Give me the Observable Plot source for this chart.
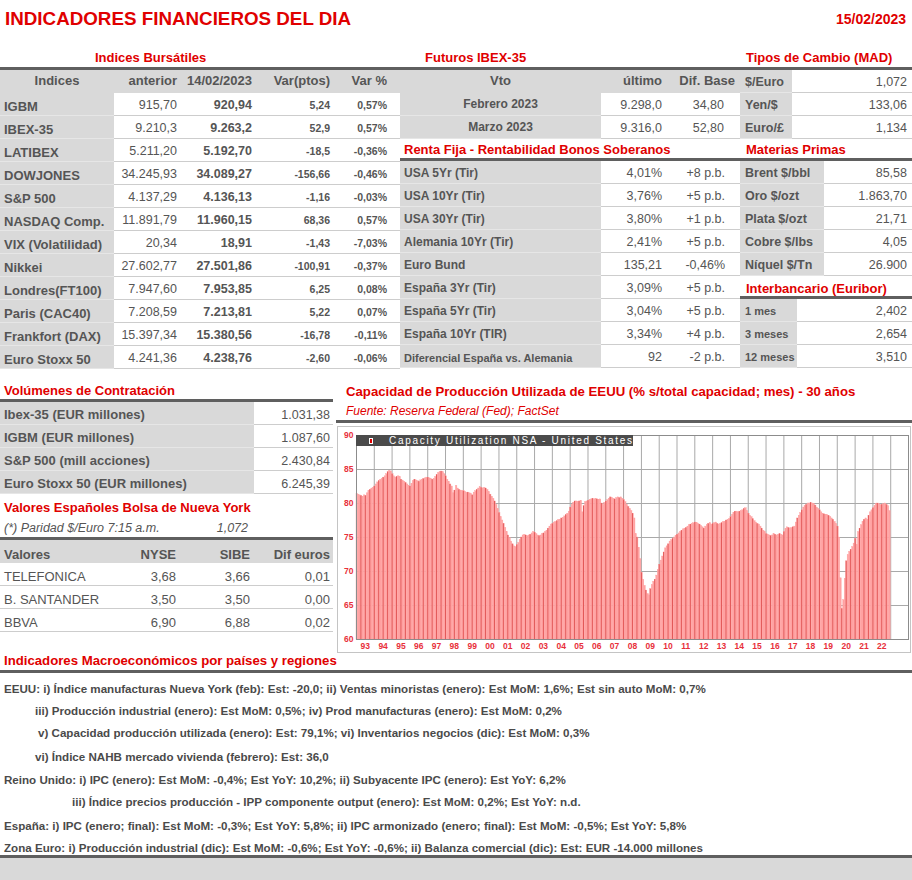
<!DOCTYPE html>
<html><head><meta charset="utf-8">
<script src="https://cdn.jsdelivr.net/npm/d3@7"></script>
<script src="https://cdn.jsdelivr.net/npm/@observablehq/plot@0.6"></script>
<style>
body{margin:0;background:#fff;font-family:Arial,"Liberation Sans",sans-serif;}
#page{position:relative;width:912px;height:880px;overflow:hidden;background:#fff;}
.t{position:absolute;white-space:nowrap;}
.cell{position:absolute;box-sizing:border-box;white-space:nowrap;overflow:visible;color:#555;}
</style></head>
<body><div id="page"></div>
<script>
// ---------- DATA ----------
const reportTitle = "INDICADORES FINANCIEROS DEL DIA";
const reportDate = "15/02/2023";
const indicesHeader = ["Indices","anterior","14/02/2023","Var(ptos)","Var %"];
const indicesNames = ["IGBM","IBEX-35","LATIBEX","DOWJONES","S&P 500","NASDAQ Comp.","VIX (Volatilidad)","Nikkei","Londres(FT100)","Paris (CAC40)","Frankfort (DAX)","Euro Stoxx 50"];
const indicesPrev = ["915,70","9.210,3","5.211,20","34.245,93","4.137,29","11.891,79","20,34","27.602,77","7.947,60","7.208,59","15.397,34","4.241,36"];
const indicesLast = ["920,94","9.263,2","5.192,70","34.089,27","4.136,13","11.960,15","18,91","27.501,86","7.953,85","7.213,81","15.380,56","4.238,76"];
const indicesVarPts = ["5,24","52,9","-18,5","-156,66","-1,16","68,36","-1,43","-100,91","6,25","5,22","-16,78","-2,60"];
const indicesVarPct = ["0,57%","0,57%","-0,36%","-0,46%","-0,03%","0,57%","-7,03%","-0,37%","0,08%","0,07%","-0,11%","-0,06%"];
const futHeader = ["Vto","último","Dif. Base"];
const futVto = ["Febrero 2023","Marzo 2023"];
const futLast = ["9.298,0","9.316,0"];
const futBase = ["34,80","52,80"];
const bondNames = ["USA 5Yr (Tir)","USA 10Yr (Tir)","USA 30Yr (Tir)","Alemania 10Yr (Tir)","Euro Bund","España 3Yr (Tir)","España 5Yr (Tir)","España 10Yr (TIR)","Diferencial España vs. Alemania"];
const bondValues = ["4,01%","3,76%","3,80%","2,41%","135,21","3,09%","3,04%","3,34%","92"];
const bondChanges = ["+8 p.b.","+5 p.b.","+1 p.b.","+5 p.b.","-0,46%","+5 p.b.","+5 p.b.","+4 p.b.","-2 p.b."];
const fxNames = ["$/Euro","Yen/$","Euro/£"];
const fxValues = ["1,072","133,06","1,134"];
const commNames = ["Brent $/bbl","Oro $/ozt","Plata $/ozt","Cobre $/lbs","Níquel $/Tn"];
const commValues = ["85,58","1.863,70","21,71","4,05","26.900"];
const euriborNames = ["1 mes","3 meses","12 meses"];
const euriborValues = ["2,402","2,654","3,510"];
const volNames = ["Ibex-35 (EUR millones)","IGBM (EUR millones)","S&P 500 (mill acciones)","Euro Stoxx 50 (EUR millones)"];
const volValues = ["1.031,38","1.087,60","2.430,84","6.245,39"];
const adrNote = ["(*) Paridad $/Euro 7:15 a.m.","1,072"];
const adrHeader = ["Valores","NYSE","SIBE","Dif euros"];
const adrNames = ["TELEFONICA","B. SANTANDER","BBVA"];
const adrNyse = ["3,68","3,50","6,90"];
const adrSibe = ["3,66","3,50","6,88"];
const adrDif = ["0,01","0,00","0,02"];
const sectionTitles = ["Indices Bursátiles","Futuros  IBEX-35","Tipos de Cambio (MAD)","Renta Fija - Rentabilidad Bonos Soberanos","Materias Primas","Interbancario (Euribor)","Volúmenes de Contratación","Valores Españoles Bolsa de Nueva York","Indicadores Macroeconómicos por países y regiones"];
const chartTitle = "Capacidad de Producción Utilizada de EEUU (% s/total capacidad; mes) - 30 años";
const chartSource = "Fuente: Reserva Federal (Fed); FactSet";
const chartLegend = "Capacity Utilization NSA - United States";
const macroLines = [
 "EEUU: i) Índice manufacturas Nueva York (feb): Est: -20,0; ii) Ventas minoristas (enero): Est MoM: 1,6%; Est sin auto MoM: 0,7%",
 "iii) Producción industrial (enero): Est MoM: 0,5%; iv) Prod manufacturas (enero): Est MoM: 0,2%",
 "v) Capacidad producción utilizada (enero): Est: 79,1%; vi) Inventarios negocios (dic): Est MoM: 0,3%",
 "vi) Índice NAHB mercado vivienda (febrero): Est: 36,0",
 "Reino Unido: i) IPC (enero): Est MoM: -0,4%; Est YoY: 10,2%; ii)  Subyacente IPC (enero): Est YoY: 6,2%",
 "iii) Índice precios producción - IPP componente output (enero): Est MoM: 0,2%; Est YoY: n.d.",
 "España: i) IPC (enero; final): Est MoM: -0,3%; Est YoY: 5,8%; ii) IPC armonizado (enero; final): Est MoM: -0,5%; Est YoY: 5,8%",
 "Zona Euro: i) Producción industrial (dic): Est MoM: -0,6%; Est YoY: -0,6%; ii) Balanza comercial (dic): Est: EUR -14.000 millones"
];
// chart data: monthly capacity utilization (%), Jan 1993 .. Dec 2022
const capStartYear = 1993;
const capUtil = [
 81.4,81.3,81.2,81.1,81.0,81.2,81.1,81.5,81.8,82.0,82.2,82.3, // 1993
 82.5,82.8,83.1,83.3,83.5,83.6,83.8,84.0,84.3,84.6,84.8,84.7, // 1994
 84.3,84.0,83.8,83.9,84.0,83.9,83.5,83.3,83.2,83.0,82.8,82.6, // 1995
 82.5,82.9,83.3,83.5,83.4,83.3,83.2,83.4,83.5,83.6,83.7,83.8, // 1996
 83.8,83.7,83.6,83.5,83.6,83.9,84.2,84.5,84.6,84.7,84.6,84.3, // 1997
 84.0,83.5,83.2,82.8,82.5,81.5,81.9,82.6,82.2,82.0,81.9,81.8, // 1998
 81.8,81.7,81.6,81.6,81.5,81.4,81.2,81.6,81.8,82.0,82.2,82.4, // 1999
 82.3,82.2,82.3,82.2,82.0,81.7,81.3,81.0,80.7,80.3,79.8,79.2, // 2000
 78.6,78.0,77.5,77.0,76.4,75.8,75.3,74.9,74.4,74.0,73.7,73.6, // 2001
 73.9,74.2,74.6,75.0,75.3,75.4,75.3,75.2,75.3,75.4,75.6,75.8, // 2002
 75.7,75.5,75.3,75.2,75.3,75.5,75.6,75.8,76.0,76.3,76.6,76.9, // 2003
 77.0,77.2,77.3,77.4,77.6,77.6,77.8,77.9,78.1,78.3,78.5,78.8, // 2004
 79.4,79.8,80.1,80.3,80.3,80.2,80.3,80.4,78.7,79.6,80.2,80.3, // 2005
 80.4,80.5,80.6,80.7,80.6,80.7,80.6,80.5,80.6,80.0,79.8,80.1, // 2006
 80.3,80.5,80.7,80.9,80.8,80.7,80.6,80.8,80.9,80.8,80.9,80.7, // 2007
 80.5,80.2,79.8,79.5,79.2,78.9,78.5,77.8,75.5,75.0,73.5,71.8, // 2008
 69.8,68.8,67.9,67.2,66.7,66.5,67.4,68.0,68.5,68.8,69.4,70.2, // 2009
 71.0,71.6,72.2,72.8,73.4,73.7,74.0,74.4,74.6,74.8,75.0,75.2, // 2010
 75.4,75.6,75.8,76.0,76.2,76.3,76.4,76.6,76.8,76.9,77.0,77.1, // 2011
 77.2,77.1,77.0,76.9,76.7,76.5,76.3,76.6,76.8,77.0,77.1,76.9, // 2012
 77.0,77.1,77.2,77.0,76.9,77.0,77.1,77.3,77.3,77.5,77.6,77.7, // 2013
 78.0,78.3,78.6,78.8,78.8,78.7,78.8,78.9,79.0,79.2,79.3,78.9, // 2014
 78.5,78.2,78.0,77.7,77.4,77.2,77.0,76.9,76.6,76.3,76.0,75.8, // 2015
 75.5,75.4,75.3,75.2,75.3,75.5,75.4,75.3,75.4,75.5,75.4,75.3, // 2016
 75.8,76.3,76.5,76.4,76.3,76.4,76.5,76.6,77.2,77.8,78.2,78.6, // 2017
 79.0,79.4,79.6,79.8,80.0,80.0,80.1,80.0,79.9,79.7,79.4,79.2, // 2018
 79.0,78.7,78.5,78.4,78.3,78.3,78.2,78.0,77.8,77.6,77.3,77.0, // 2019
 76.6,75.0,69.0,64.5,65.8,68.9,71.5,72.4,72.9,73.2,73.6,74.1, // 2020
 74.8,73.9,75.8,76.3,76.8,77.3,77.6,77.8,77.6,78.2,78.7,79.0, // 2021
 79.3,79.6,79.9,80.0,79.9,79.8,79.8,79.9,80.0,79.8,79.6,78.9  // 2022
];
const chartYears = [1993,1994,1995,1996,1997,1998,1999,2000,2001,2002,2003,2004,2005,2006,2007,2008,2009,2010,2011,2012,2013,2014,2015,2016,2017,2018,2019,2020,2021,2022];
const yTickValues = [60,65,70,75,80,85,90];

// ---------- LAYOUT HELPERS ----------
const page = document.getElementById("page");
const RED = "#e00000", GRAY = "#d9d9d9";
function text(str, x, y, css) {
  const d = document.createElement("div");
  d.className = "t"; d.textContent = str;
  d.style.left = x + "px"; d.style.top = y + "px";
  Object.assign(d.style, css || {});
  page.appendChild(d); return d;
}
function hdr(str, x, y) { return text(str, x, y, {fontWeight:"bold", fontSize:"13px", color:RED}); }
function line(x0, x1, y, h, color) {
  const d = document.createElement("div");
  d.style.position = "absolute"; d.style.left = x0 + "px"; d.style.top = y + "px";
  d.style.width = (x1 - x0) + "px"; d.style.height = (h || 3) + "px"; d.style.background = color || "#5f5f5f";
  page.appendChild(d); return d;
}
function cell(x0, x1, y, h, str, o) {
  o = o || {};
  const fs = o.fs || 12.5, bl = o.bl || 17;
  const d = document.createElement("div");
  d.className = "cell";
  d.style.left = x0 + "px"; d.style.top = y + "px";
  d.style.width = (x1 - x0) + "px"; d.style.height = h + "px";
  d.style.background = o.bg || "#fff";
  if (o.border !== false) d.style.borderBottom = "1px solid " + (o.borderColor || "#cdcdcd");
  d.style.fontSize = fs + "px";
  d.style.lineHeight = (2 * (bl - 0.905 * fs) + 1.117 * fs) + "px";
  d.style.fontWeight = o.bold ? "bold" : "normal";
  if (o.italic) d.style.fontStyle = "italic";
  const align = o.align || "right";
  d.style.textAlign = align;
  const pad = o.pad == null ? 3 : o.pad;
  if (align === "right") d.style.paddingRight = pad + "px";
  else if (align === "left") d.style.paddingLeft = pad + "px";
  d.style.color = o.color || "#555";
  d.textContent = str;
  page.appendChild(d); return d;
}

// ---------- TITLE ----------
text(reportTitle, 5, 8, {fontWeight:"bold", fontSize:"18.8px", color:RED});
text(reportDate, 836, 11, {fontWeight:"bold", fontSize:"14px", color:RED});

// ---------- INDICES BURSATILES ----------
hdr(sectionTitles[0], 95, 50);
hdr(sectionTitles[1], 425, 50);
hdr(sectionTitles[2], 746, 50);
line(0, 912, 67, 3);
const RH = 23;
cell(0,114,70,RH,indicesHeader[0],{bg:GRAY,bold:true,fs:13,align:"center",bl:16,border:false});
cell(114,178,70,RH,indicesHeader[1],{bg:GRAY,bold:true,fs:13,pad:1,bl:16,border:false});
cell(178,253,70,RH,indicesHeader[2],{bg:GRAY,bold:true,fs:13,pad:1,bl:16,border:false});
cell(253,331,70,RH,indicesHeader[3],{bg:GRAY,bold:true,fs:13,pad:1,bl:16,border:false});
cell(331,400,70,RH,indicesHeader[4],{bg:GRAY,bold:true,fs:13,pad:13,bl:16,border:false});
indicesNames.forEach((n, i) => {
  const y = 93 + i * RH;
  cell(0,114,y,RH,n,{bg:GRAY,bold:true,fs:13,align:"left",pad:4,bl:19,borderColor:"#e6e6e6"});
  cell(114,178,y,RH,indicesPrev[i],{pad:1,bl:17});
  cell(178,253,y,RH,indicesLast[i],{bold:true,pad:1,bl:17});
  cell(253,331,y,RH,indicesVarPts[i],{bold:true,fs:10.5,pad:1,bl:16});
  cell(331,400,y,RH,indicesVarPct[i],{bold:true,fs:10.5,pad:13,bl:16});
});

// ---------- FUTUROS / RENTA FIJA ----------
cell(400,601,70,RH,futHeader[0],{bg:GRAY,bold:true,fs:13,align:"center",bl:16,border:false});
cell(601,665,70,RH,futHeader[1],{bg:GRAY,bold:true,fs:13,pad:3,bl:16,border:false});
cell(665,740,70,RH,futHeader[2],{bg:GRAY,bold:true,fs:13,pad:5,bl:16,border:false});
futVto.forEach((n, i) => {
  const y = 93 + i * RH;
  cell(400,601,y,RH,n,{bg:GRAY,bold:true,fs:12,align:"center",bl:16,borderColor:"#e6e6e6"});
  cell(601,665,y,RH,futLast[i],{pad:3,bl:17});
  cell(665,740,y,RH,futBase[i],{pad:16,bl:17});
});
hdr(sectionTitles[3], 404, 142);
line(400, 740, 158, 3);
bondNames.forEach((n, i) => {
  const y = 161 + i * RH;
  const small = i === bondNames.length - 1;
  cell(400,601,y,RH,n,{bg:GRAY,bold:true,fs:small?11:12,align:"left",pad:4,bl:17,borderColor:"#e6e6e6"});
  cell(601,665,y,RH,bondValues[i],{pad:3,bl:17});
  cell(665,740,y,RH,bondChanges[i],{pad:15,bl:17});
});

// ---------- TIPOS DE CAMBIO / MATERIAS PRIMAS / EURIBOR ----------
fxNames.forEach((n, i) => {
  const y = 70 + i * RH;
  cell(740,792,y,RH,n,{bg:GRAY,bold:true,fs:12.5,align:"left",pad:5,bl:17,borderColor:"#e6e6e6"});
  cell(792,912,y,RH,fxValues[i],{pad:5,bl:17});
});
hdr(sectionTitles[4], 746, 142);
line(740, 912, 158, 3);
commNames.forEach((n, i) => {
  const y = 161 + i * RH;
  cell(740,824,y,RH,n,{bg:GRAY,bold:true,fs:12.5,align:"left",pad:5,bl:17,borderColor:"#e6e6e6"});
  cell(824,912,y,RH,commValues[i],{pad:5,bl:17});
});
hdr(sectionTitles[5], 746, 281);
line(740, 912, 296, 3);
euriborNames.forEach((n, i) => {
  const y = 299 + i * RH;
  cell(740,797,y,RH,n,{bg:GRAY,bold:true,fs:11,align:"left",pad:5,bl:16,borderColor:"#e6e6e6"});
  cell(797,912,y,RH,euriborValues[i],{pad:5,bl:17});
});

// ---------- VOLUMENES / ADR ----------
hdr(sectionTitles[6], 4, 383);
line(0, 333, 399, 3);
volNames.forEach((n, i) => {
  const y = 402 + i * RH;
  cell(0,254,y,RH,n,{bg:GRAY,bold:true,fs:13,align:"left",pad:4,bl:18,borderColor:"#e6e6e6"});
  cell(254,333,y,RH,volValues[i],{pad:3,bl:18});
});
hdr(sectionTitles[7], 4, 500);
cell(0,200,518,20,adrNote[0],{italic:true,align:"left",pad:4,bl:15,border:false});
cell(200,252,518,20,adrNote[1],{italic:true,pad:4,bl:15,border:false});
line(0, 333, 537, 3);
cell(0,120,540,RH,adrHeader[0],{bg:GRAY,bold:true,fs:13,align:"left",pad:4,bl:20,border:false});
cell(120,179,540,RH,adrHeader[1],{bg:GRAY,bold:true,fs:13,pad:3,bl:20,border:false});
cell(179,253,540,RH,adrHeader[2],{bg:GRAY,bold:true,fs:13,pad:3,bl:20,border:false});
cell(253,333,540,RH,adrHeader[3],{bg:GRAY,bold:true,fs:13,pad:3,bl:20,border:false});
adrNames.forEach((n, i) => {
  const y = 563 + i * RH;
  cell(0,120,y,RH,n,{align:"left",pad:4,bl:19,fs:13});
  cell(120,179,y,RH,adrNyse[i],{pad:3,bl:19,fs:13});
  cell(179,253,y,RH,adrSibe[i],{pad:3,bl:19,fs:13});
  cell(253,333,y,RH,adrDif[i],{pad:3,bl:19,fs:13});
});

// ---------- CHART ----------
text(chartTitle, 346, 384, {fontWeight:"bold", fontSize:"13.2px", color:RED});
text(chartSource, 346, 404, {fontStyle:"italic", fontSize:"12px", color:RED});
line(336, 912, 420, 3);
const box = document.createElement("div");
Object.assign(box.style, {position:"absolute", left:"337px", top:"426px", width:"572px", height:"225px", border:"1px solid #c4c4c4"});
page.appendChild(box);

const capData = capUtil.map((v, i) => ({date: new Date(Date.UTC(capStartYear + Math.floor(i / 12), i % 12, 1)), value: v}));
const yearStarts = chartYears.map(y => new Date(Date.UTC(y, 0, 1))).concat([new Date(Date.UTC(chartYears[chartYears.length-1] + 1, 0, 1))]);
const midYears = chartYears.map(y => new Date(Date.UTC(y, 6, 1)));
const chart = Plot.plot({
  width: 572, height: 225,
  marginTop: 8, marginBottom: 13, marginLeft: 18, marginRight: 2,
  style: {background:"#fff", color:"#e8303a", fontFamily:"Arial, 'Liberation Sans', sans-serif", fontSize:"8.5px", fontWeight:"bold", overflow:"visible"},
  x: {type:"utc", domain:[new Date(Date.UTC(1993,0,1)), new Date(Date.UTC(2024,0,1))], ticks: midYears, tickFormat: d3.utcFormat("%y"), tickSize:0, tickPadding:3, label:null},
  y: {domain:[60,90], ticks: yTickValues, tickSize:0, tickPadding:3, label:null},
  marks: [
    Plot.ruleY(yTickValues, {stroke:"#a9a9a9", strokeWidth:1}),
    Plot.ruleX(yearStarts, {stroke:"#a9a9a9", strokeWidth:1}),
    Plot.rectY(capData, {x1:"date", x2: d => d3.utcMonth.offset(d.date, 1), y1: 60, y2:"value", fill:"#ffa2a2", stroke:"#ffa2a2", strokeWidth:0.4}),
    Plot.ruleX(capData.filter((d, i) => i % 3 === 0), {x:"date", y1: 60, y2:"value", stroke:"#df5050", strokeWidth:0.9}),
    Plot.frame({stroke:"#8c8c8c"})
  ]
});
chart.style.position = "absolute"; chart.style.left = "0px"; chart.style.top = "0px";
box.appendChild(chart);
const banner = document.createElement("div");
Object.assign(banner.style, {position:"absolute", left:"18px", top:"8px", width:"277px", height:"11px", background:"#4b4b4b"});
box.appendChild(banner);
const mk = document.createElement("div");
Object.assign(mk.style, {position:"absolute", left:"13px", top:"3px", width:"4px", height:"6px", background:"#e00000", border:"1px solid #fff", boxSizing:"border-box"});
banner.appendChild(mk);
const bt = document.createElement("div");
Object.assign(bt.style, {position:"absolute", left:"33px", top:"0px", lineHeight:"11px", fontSize:"10px", color:"#fff", whiteSpace:"nowrap", letterSpacing:"1.7px"});
bt.textContent = chartLegend;
banner.appendChild(bt);

// ---------- MACRO ----------
text(sectionTitles[8], 4, 653, {fontWeight:"bold", fontSize:"13.2px", color:RED});
line(0, 912, 670, 3);
const macroX = [4, 35, 38, 35, 4, 72, 4, 4];
const macroY = [682, 704, 726, 750, 773, 795, 819, 841];
macroLines.forEach((s, i) => text(s, macroX[i], macroY[i], {fontWeight:"bold", fontSize:"11.6px", color:"#4a4a4a", lineHeight:"13px"}));
line(0, 912, 855, 3);
line(0, 912, 858, 22, GRAY);
</script>
</body></html>
